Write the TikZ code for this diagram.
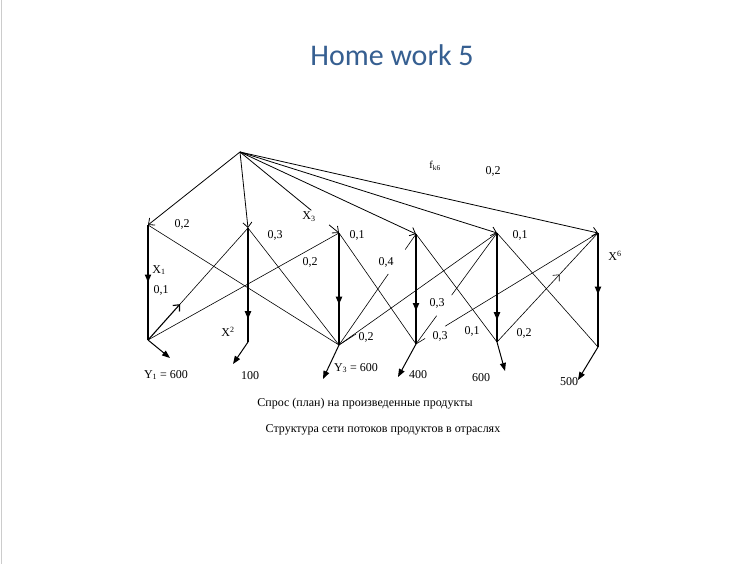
\documentclass[tikz,border=0pt]{standalone}
\usepackage{fontspec}
\setmainfont{Liberation Serif}
\newfontfamily\titlefont{Carlito}
\usetikzlibrary{arrows.meta,decorations.markings,calc}
\definecolor{titleblue}{RGB}{54,95,145}

\begin{document}
\begin{tikzpicture}[x=1pt,y=-1pt,
  num/.style={font=\fontsize{12}{14}\selectfont,inner sep=0pt},
  small/.style={font=\fontsize{10.5}{12}\selectfont,inner sep=0pt},
  flow/.style={line width=0.6pt},
  feed/.style={line width=0.8pt,-{Straight Barb[length=5pt,width=9pt]}},
  column/.style={line width=2.3pt,postaction={decorate},
    decoration={markings,mark=at position #1 with {\arrow{Triangle[length=8pt,width=6pt]}}}},
  demand/.style={line width=1pt,-{Triangle[length=8pt,width=6pt]}}]
  \useasboundingbox (0,0) rectangle (755,564);
  \fill[white] (0,0) rectangle (755,564);
  \draw[gray!40,line width=1pt] (1.5,0) -- (1.5,564);

  \node[font=\titlefont\fontsize{30}{36}\selectfont,text=titleblue] (title) at (392,55) {Home work 5};

  \coordinate (S) at (240,152);
  \foreach \n/\x/\yt/\yb in {1/148/225/340, 2/248/228/342, 3/339/233/345,
                              4/416/234/344, 5/497/233/342, 6/598/233/347} {
    \coordinate (t\n) at (\x,\yt);
    \coordinate (b\n) at (\x,\yb);
  }
  \coordinate (o1) at (170,358);
  \coordinate (o2) at (233,364);
  \coordinate (o3) at (323,379);
  \coordinate (o4) at (398,377);
  \coordinate (o5) at (505,371);
  \coordinate (o6) at (578,380);
  \coordinate (stub) at (356,334);

  \foreach \n/\p in {1/0.5,2/0.8,3/0.64,4/0.7,5/0.8,6/0.54}
    \draw[column=\p] (t\n) -- (b\n);
  \foreach \n in {1,...,6}
    \draw[demand] (b\n) -- (o\n);

  \foreach \n in {1,2,4,5,6}
    \draw[feed] (S) -- (t\n);
  \draw[line width=0.8pt] (S) -- ($(S)!0.72!(t3)$);
  \draw[feed] ($(S)!0.9!(t3)$) -- (t3);

  \draw[flow] (t1) -- (b3);
  \draw[flow] (b1) -- (t3);
  \draw[line width=1.1pt,-{Straight Barb[length=5pt,width=9pt]}] (b1) -- ($(b1)!0.32!(t2)$) coordinate (a12);
  \draw[flow] (a12) -- (t2);
  \draw[flow] (t2) -- (b3);
  \draw[flow] (t3) -- (b4);
  \draw[flow] (b3) -- ($(b3)!0.64!(t4)$);
  \draw[flow] ($(b3)!0.86!(t4)$) -- (t4);
  \draw[flow] (b3) -- (t5);
  \draw[flow] (b3) -- (stub);
  \draw[flow] (t4) -- (b5);
  \draw[flow] (b4) -- ($(b4)!0.255!(t5)$);
  \draw[flow] ($(b4)!0.44!(t5)$) -- (t5);
  \draw[flow] (b4) -- ($(b4)!0.05!(t6)$);
  \draw[flow] ($(b4)!0.16!(t6)$) -- (t6);
  \draw[flow] (t5) -- (b6);
  \draw[flow,-{Straight Barb[length=5pt,width=9pt]}] (b5) -- ($(b5)!0.62!(t6)$) coordinate (a56);
  \draw[flow] (a56) -- (t6);

  \node[num] (k1) at (182,224) {0,2};
  \node[num] (k2) at (275,235) {0,3};
  \node[num] (k3) at (357,235) {0,1};
  \node[num] (k5) at (520,235) {0,1};
  \node[num] (k13) at (310,262) {0,2};
  \node[num] (k34) at (386,262) {0,4};
  \node[num] (k36) at (366,337) {0,2};
  \node[num] (k45) at (437,303) {0,3};
  \node[num] (k46) at (440,336) {0,3};
  \node[num] (k54) at (472,331) {0,1};
  \node[num] (k56) at (524,333) {0,2};
  \node[num] (k6) at (493,171) {0,2};
  \node[small] (fk6) at (435,166) {f\textsubscript{k6}};

  \node[num] (x1) at (159,270) {X\textsubscript{1}};
  \node[num] (k11) at (161,290) {0,1};
  \node[num] (x2) at (228,332) {X\textsuperscript{2}};
  \node[num] (x3) at (309,217) {X\textsubscript{3}};
  \node[num] (x6) at (615,256) {X\textsuperscript{6}};

  \node[num] (y1) at (166,375) {Y\textsubscript{1} = 600};
  \node[num] (y2) at (250,376) {100};
  \node[num] (y3) at (356,368) {Y\textsubscript{3} = 600};
  \node[num] (y4) at (418,375) {400};
  \node[num] (y5) at (481,378) {600};
  \node[num] (y6) at (569,382) {500};

  \node[num] (cap1) at (365,404) {Спрос (план) на произведенные продукты};
  \node[num] (cap2) at (383,430) {Структура сети потоков продуктов в отраслях};
\end{tikzpicture}
\end{document}
